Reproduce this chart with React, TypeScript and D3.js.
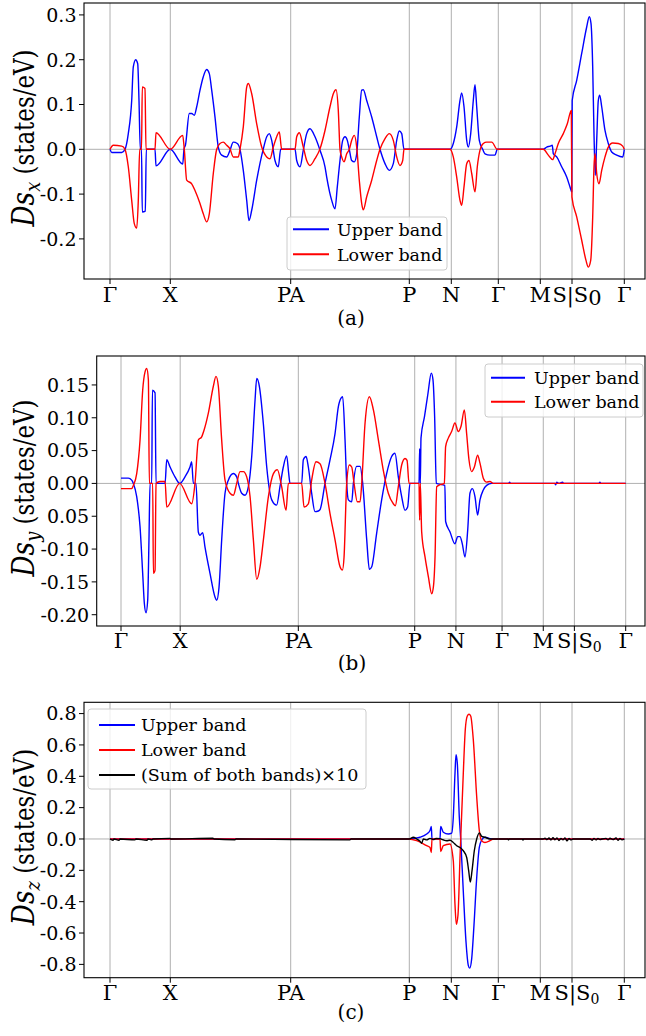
import React from 'react';
import * as d3 from 'd3';

type Pt = [number, number];

// high-symmetry k positions along the path and their labels
const kTicks = [0, 60.3, 180.7, 299.3, 341.3, 388.3, 430.3, 462, 514.3];
const kLabels = ['Γ', 'X', 'PA', 'P', 'N', 'Γ', 'M', 'S|S', 'Γ'];

const yTicksA = [-0.2, -0.1, 0, 0.1, 0.2, 0.3];
const yTickLabelsA = ['-0.2', '-0.1', '0.0', '0.1', '0.2', '0.3'];
const yTicksB = [-0.2, -0.15, -0.1, -0.05, 0, 0.05, 0.1, 0.15];
const yTickLabelsB = ['-0.20', '-0.15', '-0.10', '0.05', '0.00', '0.05', '0.10', '0.15'];
const yTicksC = [-0.8, -0.6, -0.4, -0.2, 0, 0.2, 0.4, 0.6, 0.8];
const yTickLabelsC = ['-0.8', '-0.6', '-0.4', '-0.2', '0.0', '0.2', '0.4', '0.6', '0.8'];

// (a) Ds_x
const sxUpper: Pt[] = [[0,0],[1.7,-0.007],[11.7,-0.007],[15,0],[18.3,0.035],[21.7,0.109],[23.3,0.184],[25.7,0.2],[27.7,0.191],[29,0.109],[30.3,0],[31.5,0],[32.3,-0.14],[35.3,-0.138],[36.3,0],[45,0],[46,-0.037],[60.3,0],[72.7,-0.033],[74,0],[75.5,0.01],[79.3,0.08],[81.7,0.08],[84.3,0.076],[86.7,0.095],[90,0.132],[93.3,0.162],[96.7,0.178],[99.3,0.169],[101.7,0.132],[105,0.072],[108.3,0.005],[111.7,-0.013],[116.7,-0.017],[120,-0.002],[123.3,0.016],[127.3,0.013],[130,0],[133.3,-0.047],[136.7,-0.114],[139,-0.159],[141.7,-0.136],[146.7,-0.069],[153.3,0.001],[156.7,0.028],[159.3,0.035],[161.7,0.02],[165,-0.025],[168.3,-0.039],[170.7,0],[185,0],[186.7,-0.025],[190,-0.039],[193.3,-0.002],[196.7,0.035],[200,0.046],[205,0.028],[210,-0.002],[215,-0.039],[216.7,-0.062],[221.7,-0.114],[225,-0.133],[227.3,-0.084],[230,-0.025],[232.7,0.02],[235,0.028],[237.3,0.02],[239.3,0],[241.7,-0.025],[244.3,-0.028],[246.7,-0.01],[249.3,0.072],[251.7,0.132],[253.3,0.133],[256.7,0.109],[261.7,0.072],[266.7,0.028],[270,0],[275,-0.032],[279.3,-0.047],[283.3,-0.032],[286.7,0.02],[289.3,0.041],[291.7,0.035],[294,0],[340,0],[343.3,0.013],[346.7,0.05],[350,0.109],[351.7,0.126],[354,0.095],[356.7,0.02],[358.3,0.005],[360.7,0.035],[363.3,0.109],[365,0.144],[366.7,0.095],[369.3,0.02],[372.7,0],[375,-0.01],[380,-0.013],[385,-0.013],[387.3,0],[433.3,0],[436.7,0.005],[440,0.007],[442.3,0.009],[443.3,-0.01],[446.7,-0.017],[451.7,-0.039],[456.7,-0.062],[460,-0.084],[461.7,-0.095],[462.2,0.109],[466.7,0.154],[471.7,0.214],[476.7,0.273],[479.3,0.296],[481,0.281],[482.7,0.184],[484,0.035],[485.3,-0.058],[486.7,0.02],[488.3,0.109],[489.7,0.121],[491.7,0.095],[495,0.042],[498.3,0.013],[501.7,-0.006],[506.7,-0.013],[512.7,-0.017],[514.3,0]];
const sxLower: Pt[] = [[0,0],[3.3,0.009],[11.7,0.007],[15,0],[18.3,-0.039],[21.7,-0.114],[24.3,-0.166],[26.7,-0.176],[28.3,-0.114],[29.7,0],[31.5,0],[32.3,0.139],[35,0.136],[36,0],[45,0],[46,0.037],[60.3,0],[72.7,0.031],[74.3,0],[76.7,-0.069],[81.7,-0.077],[85,-0.092],[90,-0.121],[93.3,-0.144],[96.7,-0.162],[99.3,-0.144],[103.3,-0.054],[106.7,0],[110,0.013],[113.3,0.016],[116.7,0.009],[120,0.001],[123.3,-0.017],[128.3,-0.017],[130,0],[133.3,0.05],[136.7,0.139],[138.3,0.147],[141.7,0.124],[146.7,0.057],[151.7,0.005],[156.7,-0.017],[160,-0.021],[163.3,0.005],[166.7,0.028],[169.3,0.039],[171.7,0],[185,0],[186.7,0.028],[189.3,0.037],[193.3,0.005],[196.7,-0.025],[200,-0.036],[205,-0.021],[210,0.001],[215,0.042],[220,0.095],[223.3,0.124],[226,0.133],[228.3,0.087],[230,0],[231.7,-0.017],[234,-0.028],[236.7,-0.01],[239.3,0],[241.7,0.02],[244.3,0.031],[246.7,0.005],[249.3,-0.069],[251.7,-0.121],[253.3,-0.135],[256.7,-0.106],[261.7,-0.069],[266.7,-0.025],[270,0],[275,0.024],[279.3,0.035],[283.3,0.02],[286.7,-0.017],[290,-0.036],[292.7,-0.025],[294,0],[340,0],[343.3,-0.017],[346.7,-0.062],[350,-0.114],[351.7,-0.125],[354,-0.084],[356.7,-0.032],[359,-0.025],[361.7,-0.054],[365,-0.095],[367.3,-0.039],[370,-0.002],[373.3,0.013],[376.7,0.016],[381.7,0.016],[387.3,0],[433.3,0],[438.3,-0.013],[442.7,-0.023],[445,-0.01],[448.3,0.013],[453.3,0.035],[457.3,0.057],[461.3,0.087],[461.9,-0.106],[466.7,-0.151],[471.7,-0.203],[476,-0.248],[478.3,-0.263],[480.7,-0.248],[482.7,-0.151],[484,-0.039],[485,-0.01],[486.7,-0.054],[489,-0.077],[491.7,-0.047],[495,-0.017],[498.3,0.005],[502.7,0.014],[508.3,0.013],[512.7,0.007],[514.3,0]];

// (b) Ds_y
const syUpper: Pt[] = [[0,0.008],[7.5,0.008],[10.9,0.005],[12.6,0],[16,-0.02],[19.4,-0.066],[22.1,-0.137],[23.8,-0.183],[25.5,-0.197],[27.2,-0.178],[28.5,-0.086],[29.6,0],[31.3,0],[32,0.142],[34.7,0.138],[35.7,0],[44.9,0],[46.6,0.036],[50,0.025],[55,0.01],[59.8,0],[65.2,0.01],[70.3,0.025],[72,0.033],[73.7,0],[76.4,0],[78.8,-0.074],[80.5,-0.079],[83.2,-0.075],[85.6,-0.097],[90.7,-0.137],[95.8,-0.173],[97.5,-0.178],[99.9,-0.158],[102.6,-0.086],[106,-0.015],[109.4,0.005],[114.5,0.015],[117.9,0.01],[119.6,0],[123,-0.015],[126.4,-0.018],[129.8,-0.005],[133.2,0.041],[136.6,0.127],[138.3,0.16],[141,0.148],[145,0.092],[148.5,0.025],[153.6,-0.025],[158.6,-0.033],[162,-0.005],[165.4,0.025],[168.8,0.042],[170.9,0.015],[172.2,0],[184.1,0],[185.8,0.036],[188.6,0.041],[190.9,0.025],[194.3,-0.015],[197.7,-0.043],[201.1,-0.042],[202.8,-0.04],[207.9,0],[213,0.036],[218.1,0.076],[221.5,0.117],[224.2,0.13],[225.9,0.132],[228.3,0.066],[230,0],[231.7,-0.025],[235.1,-0.028],[236.8,0],[240.2,0.026],[243.6,0.026],[246.3,0],[250.4,-0.086],[253.1,-0.131],[255.5,-0.127],[260.5,-0.076],[265.6,-0.025],[270.7,0.015],[275.8,0.041],[279.2,0.046],[282.6,0.01],[286,-0.02],[289.4,-0.041],[292.1,-0.036],[294.5,0],[303.7,0],[304.3,0.053],[305,0],[305.7,0.069],[309.3,0.102],[312.8,0.137],[316.2,0.168],[317.9,0.158],[319.6,0.102],[321.3,0],[330,-0.003],[330.8,-0.058],[335.3,-0.074],[340.3,-0.092],[343.1,-0.081],[345.4,-0.081],[347.8,-0.092],[350.5,-0.112],[353.3,-0.071],[355.6,-0.015],[358,-0.008],[360.7,-0.02],[363.4,-0.048],[365.8,-0.025],[369.2,-0.01],[372.6,-0.003],[377.7,0],[395,0],[396,0.002],[397,0],[442,0],[443,-0.002],[444,0.002],[446,0],[450,0.002],[451,0],[487,0],[488,0.002],[489,0],[514.3,0]];
const syLower: Pt[] = [[0,-0.008],[10.9,-0.008],[12.6,-0.003],[16,0.015],[19.4,0.066],[22.1,0.142],[24.5,0.17],[26.2,0.175],[27.9,0.158],[28.9,0],[32.3,0],[33,-0.137],[34.7,-0.132],[35.7,0],[39.8,0.003],[44.9,0.003],[46.6,-0.036],[59.8,0],[72,-0.031],[75.4,0],[78.8,0.066],[82.2,0.071],[84.6,0.081],[89,0.107],[94.1,0.148],[96.8,0.163],[99.2,0.148],[102.6,0.066],[106,0.005],[111.1,-0.015],[114.5,-0.018],[117.9,0],[121.3,0.018],[124.7,0.018],[128.1,0.01],[131.5,-0.02],[134.9,-0.086],[138.3,-0.146],[141.7,-0.127],[145.1,-0.086],[150.2,-0.02],[155.3,0.015],[159.3,0.021],[163.7,-0.005],[168.2,-0.041],[170.5,0],[184.1,0],[186.5,-0.036],[190.9,-0.031],[194.3,0.005],[198.7,0.033],[202.8,0.03],[207.9,0],[213,-0.046],[218.1,-0.086],[223.2,-0.127],[225.6,-0.132],[227.3,-0.112],[230,0],[232.7,0.028],[235.1,0.025],[237.5,0],[240.8,-0.028],[243.6,-0.028],[245.3,0],[248.7,0.092],[253.1,0.132],[257.2,0.112],[262.3,0.066],[267.3,0.02],[272.4,-0.015],[277.5,-0.031],[279.5,-0.034],[282.6,-0.005],[286,0.028],[289.4,0.038],[291.5,0.035],[293.5,0],[303.7,0],[304.3,-0.056],[305,0],[306.4,-0.074],[309.8,-0.112],[313.2,-0.142],[316.6,-0.168],[318.3,-0.158],[320,-0.112],[321.7,-0.005],[325.1,-0.002],[329.5,0],[330.8,0.056],[333.5,0.069],[336.9,0.079],[340.3,0.092],[343.7,0.079],[346.5,0.087],[349.9,0.112],[352.2,0.076],[354.6,0.036],[357.3,0.018],[360.1,0.025],[363.4,0.043],[365.8,0.031],[369.2,0.008],[372.6,0.002],[376,0.003],[379.4,0],[514.3,0]];

// (c) Ds_z
const szUpper: Pt[] = [[0,0],[299.3,0],[303.3,0.004],[310,0.011],[316.7,0.032],[320,0.054],[321.3,0.08],[322,0],[330,0],[330.7,0.08],[333.3,0.043],[338.3,0.032],[341.7,0.037],[343.3,0.14],[345,0.419],[346,0.538],[347.3,0.484],[349.3,0.14],[350.7,0],[353.3,-0.333],[356,-0.656],[358.3,-0.806],[359.7,-0.824],[361.7,-0.763],[364,-0.548],[366.7,-0.247],[369.3,-0.054],[371.7,-0.006],[375,0.011],[380,0.002],[383.3,0],[514.3,0]];
const szLower: Pt[] = [[0,0],[299.3,0],[306.7,-0.011],[316.7,-0.043],[320,-0.054],[321.3,-0.086],[322,0],[330,0],[330.7,-0.08],[333.3,-0.043],[340,-0.032],[343.3,-0.14],[345,-0.419],[346.3,-0.544],[348,-0.484],[350,-0.118],[351.3,0.097],[353.3,0.419],[355.3,0.699],[357.3,0.785],[359,0.796],[360.7,0.785],[363.3,0.634],[366.7,0.269],[369.3,0.054],[371.7,-0.011],[375,-0.022],[380,-0.011],[383.3,0],[514.3,0]];
const szSum: Pt[] = [[0,0],[3,-0.008],[4,0],[9,-0.008],[10,0],[25,-0.006],[26,0],[37,-0.008],[38,0],[42,-0.006],[43,0],[60,0.004],[61,0],[103,0.005],[104,0],[125,-0.005],[126,0],[240,-0.006],[241,0],[299.3,0],[303.3,0.011],[306.7,0],[310,-0.015],[311.7,-0.028],[313.3,0],[316.7,-0.006],[320,0.004],[323.3,-0.004],[326,0.003],[330,0.002],[333,-0.005],[336.7,-0.011],[340,-0.008],[343.3,-0.022],[346.7,-0.043],[350,-0.054],[353.3,-0.075],[356.7,-0.118],[358.7,-0.204],[360.3,-0.275],[362,-0.204],[364.3,-0.075],[366.7,0],[369.3,0.039],[371.7,0.017],[375,0.011],[380,0],[398,0],[398.5,-0.006],[399,0],[412.5,0],[413,-0.008],[413.5,0],[433,0],[435,0.005],[437,-0.004],[439,0.006],[441,-0.006],[443,0.008],[445,-0.005],[447,0.006],[449,-0.01],[451,0.004],[453,-0.006],[455,0.007],[457,-0.012],[459,0.003],[461,-0.006],[463,0],[480,0],[482,-0.008],[484,0.004],[486,-0.006],[488,0.003],[490,-0.004],[492,0],[496,0.004],[498,-0.006],[500,0.005],[503,-0.004],[506,0.006],[508,-0.008],[510,0.004],[512,-0.006],[514.3,0]];

const FONT = 'DejaVu Serif';
const BLUE = '#0000ff';
const RED = '#ff0000';
const BLACK = '#000000';
const GRID = '#b0b0b0';

interface Layout {
  left: number; right: number; top: number; bottom: number;
  xRange: [number, number]; yDomain: [number, number];
  tickBase: number; tagX: number; tagBase: number; ylabelX: number; ylabelY: number;
  subZero: boolean;
}

interface LegendItem { label: string; color: string }
interface LegendBox { x: number; y: number; w: number; h: number; lineX0: number; lineX1: number; textX: number; rows: number[] }

interface PanelProps {
  id: string;
  L: Layout;
  yTicks: number[];
  yTickLabels: string[];
  series: { data: Pt[]; color: string }[];
  axis: string;
  tag: string;
  legendItems: LegendItem[];
  legendBox: LegendBox;
}

function Panel({ id, L, yTicks, yTickLabels, series, axis, tag, legendItems, legendBox }: PanelProps) {
  const x = d3.scaleLinear().domain([kTicks[0], kTicks[kTicks.length - 1]]).range(L.xRange);
  const y = d3.scaleLinear().domain(L.yDomain).range([L.bottom, L.top]);
  const line = d3.line<Pt>().x(d => x(d[0])).y(d => y(d[1])).curve(d3.curveMonotoneX);
  return (
    <g>
      <defs>
        <clipPath id={`clip-${id}`}>
          <rect x={L.left} y={L.top} width={L.right - L.left} height={L.bottom - L.top} />
        </clipPath>
      </defs>
      {kTicks.map((k, i) => (
        <line key={`g${i}`} x1={x(k)} x2={x(k)} y1={L.top} y2={L.bottom} stroke={GRID} strokeWidth={1} />
      ))}
      <line x1={L.left} x2={L.right} y1={y(0)} y2={y(0)} stroke={GRID} strokeWidth={1} />
      <g clipPath={`url(#clip-${id})`}>
        {series.map((s, i) => (
          <path key={`s${i}`} d={line(s.data) || ''} fill="none" stroke={s.color} strokeWidth={1.4} strokeLinejoin="round" />
        ))}
      </g>
      <rect x={L.left} y={L.top} width={L.right - L.left} height={L.bottom - L.top} fill="none" stroke="#000" strokeWidth={1.1} />
      {kTicks.map((k, i) => (
        <g key={`xt${i}`}>
          <line x1={x(k)} x2={x(k)} y1={L.bottom} y2={L.bottom + 5} stroke="#000" strokeWidth={1} />
          <text x={x(k) + (kLabels[i] === 'S|S' ? 5 : 0)} y={L.tickBase} fontFamily={FONT} fontSize={21} textAnchor="middle" fill="#000">
            {kLabels[i]}
            {kLabels[i] === 'S|S' ? (
              L.subZero
                ? <tspan fontSize={14} dy={4}>0</tspan>
                : <tspan dy={3}>0</tspan>
            ) : null}
          </text>
        </g>
      ))}
      {yTicks.map((v, i) => (
        <g key={`yt${i}`}>
          <line x1={L.left - 5} x2={L.left} y1={y(v)} y2={y(v)} stroke="#000" strokeWidth={1} />
          <text x={L.left - 7.5} y={y(v)} dy="0.36em" fontFamily={FONT} fontSize={19} textAnchor="end" fill="#000">{yTickLabels[i]}</text>
        </g>
      ))}
      <text transform={`translate(${L.ylabelX},${L.ylabelY}) rotate(-90) scale(0.85,1)`} fontFamily={FONT} fontSize={27} textAnchor="middle" fill="#000">
        <tspan fontStyle="italic" fontSize={31}>Ds</tspan>
        <tspan fontStyle="italic" fontSize={21} dy={6}>{axis}</tspan>
        <tspan dy={-6}> (states/eV)</tspan>
      </text>
      <text x={L.tagX} y={L.tagBase} fontFamily={FONT} fontSize={20} textAnchor="middle" fill="#000">{tag}</text>
      <g>
        <rect x={legendBox.x} y={legendBox.y} width={legendBox.w} height={legendBox.h} rx={3} fill="#fff" fillOpacity={0.8} stroke="#cccccc" strokeWidth={1} />
        {legendItems.map((it, i) => (
          <g key={`lg${i}`}>
            <line x1={legendBox.lineX0} x2={legendBox.lineX1} y1={legendBox.rows[i]} y2={legendBox.rows[i]} stroke={it.color} strokeWidth={2} />
            <text x={legendBox.textX} y={legendBox.rows[i]} dy="0.36em" fontFamily={FONT} fontSize={17.5} fill="#000">{it.label}</text>
          </g>
        ))}
      </g>
    </g>
  );
}

const legendTwo: LegendItem[] = [
  { label: 'Upper band', color: BLUE },
  { label: 'Lower band', color: RED },
];
const legendThree: LegendItem[] = [
  { label: 'Upper band', color: BLUE },
  { label: 'Lower band', color: RED },
  { label: '(Sum of both bands)×10', color: BLACK },
];

export default function App() {
  const LA: Layout = { left: 84, right: 645, top: 3, bottom: 279, xRange: [110, 624.3], yDomain: [-0.2895, 0.3266], tickBase: 302, tagX: 351, tagBase: 325, ylabelX: 34, ylabelY: 138, subZero: false };
  const LB: Layout = { left: 96.7, right: 645, top: 356, bottom: 626, xRange: [121, 625.7], yDomain: [-0.2172, 0.1941], tickBase: 648, tagX: 352, tagBase: 670, ylabelX: 34, ylabelY: 488, subZero: true };
  const LC: Layout = { left: 84, right: 645, top: 702.3, bottom: 977.7, xRange: [110, 624.3], yDomain: [-0.885, 0.872], tickBase: 1000, tagX: 351, tagBase: 1019, ylabelX: 34, ylabelY: 837, subZero: true };
  return (
    <div style={{ position: 'absolute', left: 0, top: 0 }}>
      <svg width={646} height={1036} viewBox="0 0 646 1036" style={{ display: 'block', background: '#fff' }}>
        <Panel id="a" L={LA} yTicks={yTicksA} yTickLabels={yTickLabelsA} axis="x" tag="(a)"
          series={[{ data: sxUpper, color: BLUE }, { data: sxLower, color: RED }]}
          legendItems={legendTwo}
          legendBox={{ x: 287, y: 217, w: 160, h: 53, lineX0: 293, lineX1: 329, textX: 337, rows: [229.3, 254.3] }} />
        <Panel id="b" L={LB} yTicks={yTicksB} yTickLabels={yTickLabelsB} axis="y" tag="(b)"
          series={[{ data: syUpper, color: BLUE }, { data: syLower, color: RED }]}
          legendItems={legendTwo}
          legendBox={{ x: 485, y: 364, w: 158, h: 53, lineX0: 491, lineX1: 525, textX: 534, rows: [377.7, 401.7] }} />
        <Panel id="c" L={LC} yTicks={yTicksC} yTickLabels={yTickLabelsC} axis="z" tag="(c)"
          series={[{ data: szUpper, color: BLUE }, { data: szLower, color: RED }, { data: szSum, color: BLACK }]}
          legendItems={legendThree}
          legendBox={{ x: 88, y: 709, w: 278, h: 80, lineX0: 99, lineX1: 135, textX: 141, rows: [725, 750, 775] }} />
      </svg>
    </div>
  );
}
